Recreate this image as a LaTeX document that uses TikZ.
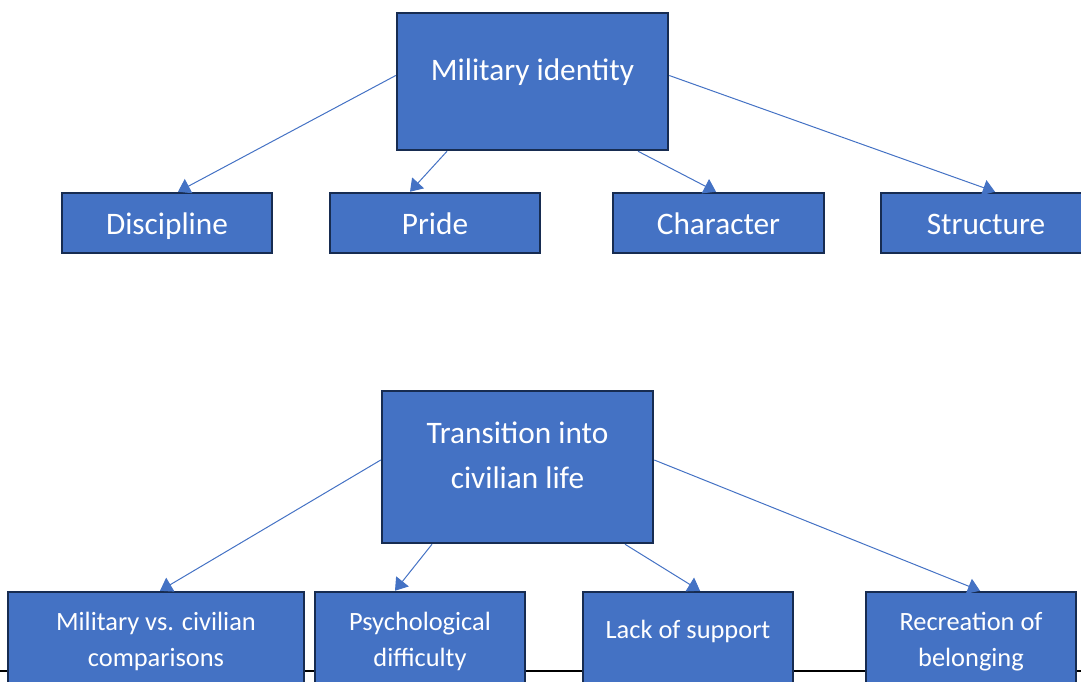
\documentclass[tikz,border=0pt]{standalone}
\usepackage{fontspec}
\setmainfont{Carlito}
\usetikzlibrary{arrows.meta}

\definecolor{boxblue}{HTML}{4472C4}
\definecolor{boxedge}{HTML}{172C51}

\begin{document}
\begin{tikzpicture}[x=1pt,y=-1pt,
  box/.style={draw=boxedge, line width=2.5pt, fill=boxblue, text=white,
    inner sep=0pt, align=center},
  bigbox/.style={box, font=\fontsize{31.3}{45}\selectfont},
  oneline/.style={text height=23pt, text depth=0pt},
  smallbox/.style={box, font=\fontsize{26.4}{36}\selectfont,
    minimum width=210pt, minimum height=99pt},
  lift/.style={text depth=#1},
  link/.style={draw=boxblue, line width=1pt,
    -{Triangle[width=16pt,length=12pt]}}]

\useasboundingbox (0,0) rectangle (1081,682);

\draw[line width=1.5pt] (0,671) -- (1081,671);

% military identity
\node[bigbox, oneline, minimum width=271pt, minimum height=137pt, lift=24pt] (mil) at (532.5,81.5) {Military identity};

\node[bigbox, oneline, minimum width=210pt, minimum height=60pt] (dis) at (167,223) {Discipline};
\node[bigbox, oneline, minimum width=210pt, minimum height=60pt] (pri) at (435,223) {Pride};
\node[bigbox, oneline, minimum width=211pt, minimum height=60pt] (cha) at (718.5,223) {Character};
\node[bigbox, oneline, minimum width=210pt, minimum height=60pt] (str) at (986,223) {Structure};

\draw[link] ([yshift=6pt]mil.west) -- ([xshift=11pt]dis.north);
\draw[link] ([xshift=-85.5pt]mil.south) -- ([xshift=-25pt]pri.north);
\draw[link] ([xshift=105.5pt]mil.south) -- ([xshift=-2.5pt]cha.north);
\draw[link] ([yshift=6pt]mil.east) -- ([xshift=9pt]str.north);

% transition
\node[bigbox, minimum width=271pt, minimum height=152pt, lift=24pt] (tra) at (517.5,467) {Transition into\\civilian life};

\node[smallbox, minimum width=296pt] (cmp) at (156,641.5) {Military vs. civilian\\comparisons};
\node[smallbox] (psy) at (420,641.5) {Psychological\\difficulty};
\node[smallbox, lift=24pt] (sup) at (688,641.5) {Lack of support};
\node[smallbox] (rec) at (971,641.5) {Recreation of\\belonging};

\draw[link] ([yshift=7pt]tra.west) -- ([xshift=4pt]cmp.north);
\draw[link] ([xshift=-85.5pt]tra.south) -- ([xshift=-25pt]psy.north);
\draw[link] ([xshift=107.5pt]tra.south) -- ([xshift=12pt]sup.north);
\draw[link] ([yshift=7pt]tra.east) -- ([xshift=9pt]rec.north);

\end{tikzpicture}
\end{document}
